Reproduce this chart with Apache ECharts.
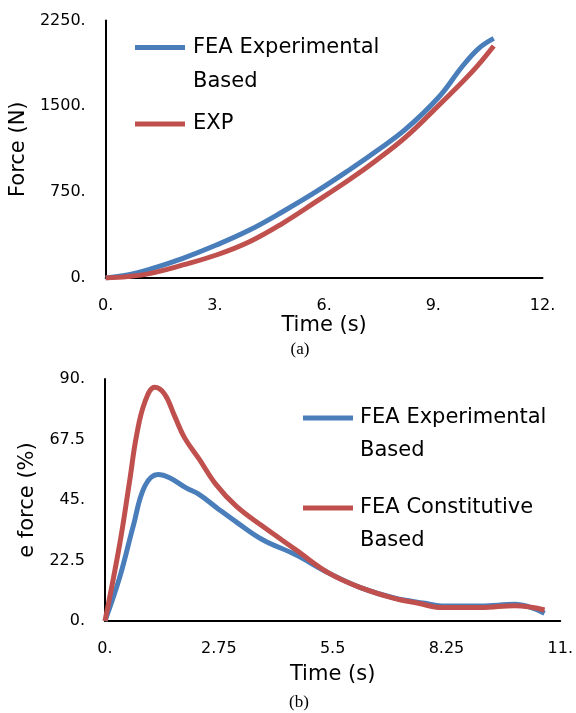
<!DOCTYPE html>
<html>
<head>
<meta charset="utf-8">
<script src="https://cdn.jsdelivr.net/npm/echarts@6/dist/echarts.min.js"></script>
<style>html,body{margin:0;padding:0;background:#fff;}#c{width:576px;height:713px;}</style>
</head>
<body>
<div id="c"></div>
<script>
// ---- Chart (a): Force vs Time ----
const timeA_fea = [0, 0.6, 1.2, 2.12, 3.04, 3.95, 4.86, 5.78, 6.69, 7.42, 8.24, 9.16, 9.79, 10.25, 10.66];
const forceA_fea = [0, 26, 75, 172, 288, 419, 579, 754, 944, 1105, 1300, 1584, 1846, 2007, 2094];
const timeA_exp = [0, 0.6, 1.2, 2.12, 3.04, 3.95, 4.86, 5.78, 6.69, 7.42, 8.24, 9.16, 10.07, 10.66];
const forceA_exp = [0, 12, 38, 114, 201, 317, 478, 667, 858, 1025, 1230, 1512, 1803, 2027];
const namesA = ['FEA Experimental\nBased', 'EXP'];
const xTicksA = { min: 0, max: 12, interval: 3 };
const yTicksA = { min: 0, max: 2250, interval: 750 };

// ---- Chart (b): error force vs Time ----
const timeB_exp = [0, 0.36, 0.68, 0.96, 1.28, 1.56, 1.96, 2.28, 2.76, 3.2, 3.81, 4.61, 5.41, 6.21, 7.01, 7.73, 8.13, 9.09, 9.9, 10.3, 10.62];
const valB_exp = [0, 16.5, 35.2, 50.1, 54.5, 53.3, 49.5, 47.0, 41.4, 36.5, 30.2, 24.6, 17.8, 12.2, 8.5, 6.6, 5.6, 5.6, 6.2, 5.0, 2.9];
const timeB_con = [0, 0.36, 0.6, 0.76, 0.96, 1.2, 1.44, 1.68, 1.92, 2.28, 2.68, 3.17, 3.81, 4.61, 5.41, 6.21, 7.01, 7.57, 8.13, 9.09, 9.9, 10.3, 10.62];
const valB_con = [0, 29.0, 52.6, 68.8, 81.3, 86.9, 84.4, 76.3, 68.2, 60.1, 50.8, 42.7, 35.2, 26.5, 17.8, 12.2, 8.3, 6.6, 5.0, 5.0, 5.7, 5.1, 4.1];
const namesB = ['FEA Experimental\nBased', 'FEA Constitutive\nBased'];
const xTicksB = { min: 0, max: 11, interval: 2.75 };
const yTicksB = { min: 0, max: 90, interval: 22.5 };

const BLUE = '#4A7EBB';
const RED = '#C0504D';
const FONT = 'DejaVu Sans';

const zip = (a, b) => a.map((v, i) => [v, b[i]]);
const fmt = v => Number.isInteger(v) ? v + '.' : String(v);

function xAxis(gi, t, name, gap) {
  return {
    type: 'value', gridIndex: gi, min: t.min, max: t.max, interval: t.interval,
    name: name, nameLocation: 'middle', nameGap: gap,
    nameTextStyle: { fontFamily: FONT, fontSize: 21, color: '#000' },
    axisLine: { show: true, onZero: false, lineStyle: { color: '#000', width: 2 } },
    axisTick: { show: false }, splitLine: { show: false },
    axisLabel: { formatter: fmt, fontFamily: FONT, fontSize: 16, color: '#000', margin: 20 }
  };
}
function yAxis(gi, t, name, gap) {
  return {
    type: 'value', gridIndex: gi, min: t.min, max: t.max, interval: t.interval,
    name: name, nameLocation: 'middle', nameGap: gap, nameRotate: 90,
    nameTextStyle: { fontFamily: FONT, fontSize: 21, color: '#000' },
    axisLine: { show: true, onZero: false, lineStyle: { color: '#000', width: 2 } },
    axisTick: { show: false }, splitLine: { show: false },
    axisLabel: { formatter: fmt, fontFamily: FONT, fontSize: 16, color: '#000', margin: 20 }
  };
}
function series(name, xi, data, color) {
  return {
    type: 'line', name: name, xAxisIndex: xi, yAxisIndex: xi, data: data,
    smooth: 0.4, showSymbol: false, symbol: 'none',
    lineStyle: { color: color, width: 5 }, itemStyle: { color: color }
  };
}
function legendItem(x1, x2, y, color, tx, text, lh) {
  return [
    { type: 'line', shape: { x1: x1, y1: y, x2: x2, y2: y }, style: { stroke: color, lineWidth: 5 } },
    { type: 'text', x: tx, y: y - lh / 2, style: { text: text, fontFamily: FONT, fontSize: 21, fill: '#000', lineHeight: lh, verticalAlign: 'top', align: 'left' } }
  ];
}

const chart = echarts.init(document.getElementById('c'), null, { renderer: 'canvas' });
chart.setOption({
  backgroundColor: '#fff',
  animation: false,
  grid: [
    { left: 102.5, top: 20.5, width: 440, height: 257.5 },
    { left: 105, top: 379, width: 457, height: 242 }
  ],
  xAxis: [xAxis(0, xTicksA, 'Time (s)', 33), xAxis(1, xTicksB, 'Time (s)', 43)],
  yAxis: [yAxis(0, yTicksA, 'Force (N)', 74), yAxis(1, yTicksB, 'e force (%)', 66)],
  series: [
    series(namesA[0], 0, zip(timeA_fea, forceA_fea), BLUE),
    series(namesA[1], 0, zip(timeA_exp, forceA_exp), RED),
    series(namesB[0], 1, zip(timeB_exp, valB_exp), BLUE),
    series(namesB[1], 1, zip(timeB_con, valB_con), RED)
  ],
  graphic: [
    ...legendItem(135, 185, 47.5, BLUE, 193, namesA[0], 34),
    ...legendItem(135, 185, 124, RED, 193, namesA[1], 34),
    ...legendItem(303, 353, 418, BLUE, 360, namesB[0], 33),
    ...legendItem(303, 353, 508, RED, 360, namesB[1], 33),
    { type: 'text', x: 300, y: 350, style: { text: '(a)', fontFamily: 'Liberation Serif', fontSize: 17, fill: '#000', align: 'center', verticalAlign: 'middle' } },
    { type: 'text', x: 299, y: 703, style: { text: '(b)', fontFamily: 'Liberation Serif', fontSize: 17, fill: '#000', align: 'center', verticalAlign: 'middle' } }
  ]
});
</script>
</body>
</html>
